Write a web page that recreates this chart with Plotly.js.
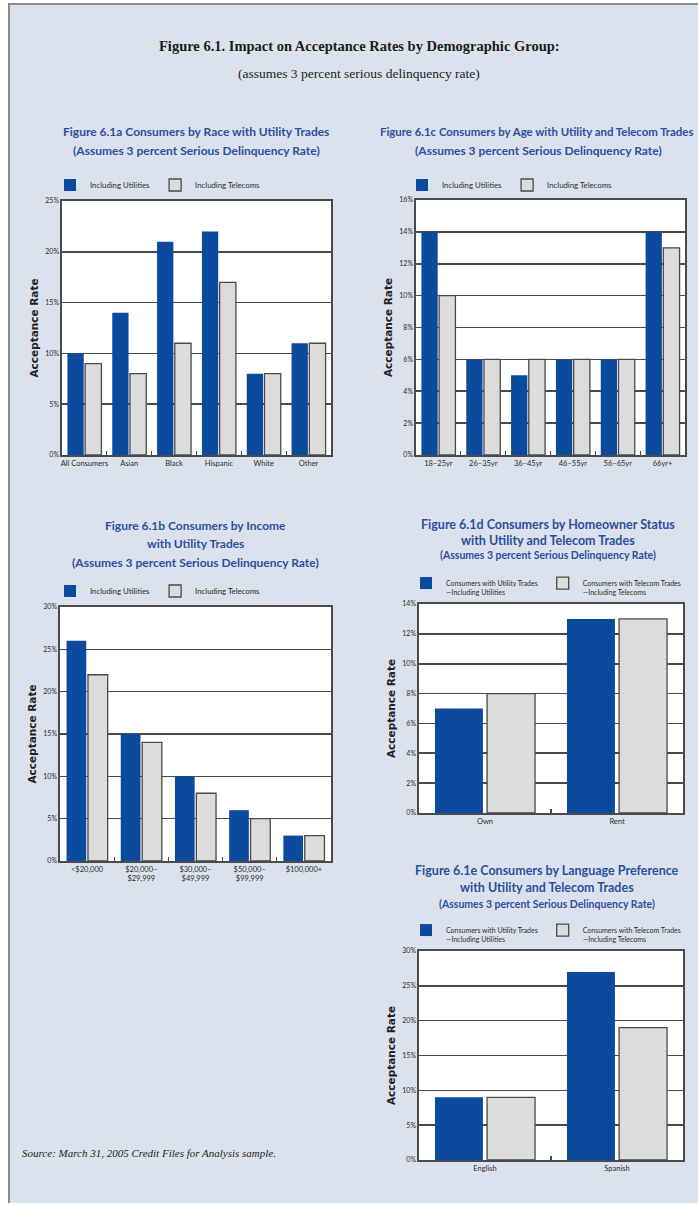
<!DOCTYPE html>
<html>
<head>
<meta charset="utf-8">
<script src="https://cdn.plot.ly/plotly-3.0.1.min.js"></script>
<style>
  html, body { margin: 0; padding: 0; background: #ffffff; }
  #panel {
    position: absolute; left: 8px; top: 3px; width: 700px; height: 1200px;
    background: #dce2ed; border-left: 2px solid #8c8c8c; border-top: 2px solid #8c8c8c;
    box-sizing: border-box;
  }
  #chart { position: absolute; left: 0; top: 0; width: 698px; height: 1205px; }
</style>
</head>
<body>
<div id="panel"></div>
<div id="chart"></div>
<script>
// Acceptance rates (percent) by demographic group
const raceCats = ['All Consumers', 'Asian', 'Black', 'Hispanic', 'White', 'Other'];
const raceUtil = [10, 14, 21, 22, 8, 11];
const raceTel  = [9, 8, 11, 17, 8, 11];

const incomeCats = ['<$20,000', '$20,000–<br>$29,999', '$30,000–<br>$49,999', '$50,000–<br>$99,999', '$100,000+'];
const incomeUtil = [26, 15, 10, 6, 3];
const incomeTel  = [22, 14, 8, 5, 3];

const ageCats = ['18–25yr', '26–35yr', '36–45yr', '46–55yr', '56–65yr', '66yr+'];
const ageUtil = [14, 6, 5, 6, 6, 14];
const ageTel  = [10, 6, 6, 6, 6, 13];

const homeCats = ['Own', 'Rent'];
const homeUtil = [7, 13];
const homeTel  = [8, 13];

const langCats = ['English', 'Spanish'];
const langUtil = [9, 27];
const langTel  = [9, 19];

const shortNames = ['Including Utilities', 'Including Telecoms'];
const longNames = ['Consumers with Utility Trades<br>—Including Utilities',
                   'Consumers with Telecom Trades<br>—Including Telecoms'];

// styling
const BLUE = '#0b4a9c';
const GRAY = '#dcdcdc';
const EDGE = '#4a4a4a';
const TXT = '#2a2a2a';
const HEAD = '#2a4f9f';
const SANS = 'Lato, sans-serif';
const BOLD = 'Lato, sans-serif';
const WIDE = 'DejaVu Sans, sans-serif';
const SERIF = 'Liberation Serif, serif';
const W = 698, H = 1205;

const px = v => v / W;          // horizontal pixel -> paper fraction
const py = v => 1 - v / H;      // vertical pixel -> paper fraction

function pair(cats, util, tel, names, ax, leg) {
  const xa = 'x' + ax, ya = 'y' + ax;
  return [
    { type: 'bar', x: cats, y: util, name: names[0], xaxis: xa, yaxis: ya, legend: leg,
      marker: { color: BLUE, line: { color: BLUE, width: 0 } }, hoverinfo: 'y' },
    { type: 'bar', x: cats, y: tel, name: names[1], xaxis: xa, yaxis: ya, legend: leg,
      marker: { color: GRAY, line: { color: EDGE, width: 1.3 } }, hoverinfo: 'y' }
  ];
}

const data = [
  ...pair(raceCats, raceUtil, raceTel, shortNames, '', 'legend'),
  ...pair(ageCats, ageUtil, ageTel, shortNames, '2', 'legend2'),
  ...pair(incomeCats, incomeUtil, incomeTel, shortNames, '3', 'legend3'),
  ...pair(homeCats, homeUtil, homeTel, longNames, '4', 'legend4'),
  ...pair(langCats, langUtil, langTel, longNames, '5', 'legend5')
];

function xAxis(x0, x1, anchor) {
  return {
    type: 'category', domain: [px(x0), px(x1)], anchor: anchor,
    showline: true, mirror: true, linecolor: EDGE, linewidth: 1.6,
    ticks: 'inside', tickson: 'boundaries', ticklen: 4, tickwidth: 1.2, tickcolor: EDGE,
    tickangle: 0, tickfont: { family: SANS, size: 7.5, color: TXT },
    showgrid: false, fixedrange: true
  };
}
function yAxis(y0, y1, top, step, anchor) {
  return {
    domain: [py(y1), py(y0)], anchor: anchor, range: [0, top], dtick: step,
    ticksuffix: '%', ticks: '', showgrid: true, gridcolor: EDGE, gridwidth: 1.6,
    zeroline: false, showline: true, mirror: true, linecolor: EDGE, linewidth: 1.6,
    tickfont: { family: SANS, size: 7, color: TXT }, fixedrange: true,
    title: { text: '<b>Acceptance Rate</b>', standoff: 4,
             font: { family: WIDE, size: 10.5, color: '#222222' } }
  };
}

function legendAt(x, y, size, valign) {
  return {
    x: px(x), y: py(y), xanchor: 'left', yanchor: 'middle', orientation: 'h',
    bgcolor: 'rgba(0,0,0,0)', borderwidth: 0,
    font: { family: SANS, size: size, color: TXT }, valign: valign || 'middle',
    itemclick: false, itemdoubleclick: false, traceorder: 'normal'
  };
}

// one annotation per heading line so each baseline can be placed
function line(text, x, y, size, color, family, anchor) {
  return { xref: 'paper', yref: 'paper', x: px(x), y: py(y), xanchor: anchor || 'center', yanchor: 'middle',
           showarrow: false, text: text, font: { family: family || BOLD, size: size, color: color || HEAD } };
}
const SUB = '<b>(Assumes 3 percent Serious Delinquency Rate)</b>';

const layout = {
  width: W, height: H,
  margin: { l: 0, r: 0, t: 0, b: 0 },
  paper_bgcolor: 'rgba(0,0,0,0)', plot_bgcolor: '#ffffff',
  barmode: 'group', bargap: 0.21, bargroupgap: 0.08,
  showlegend: true,

  xaxis:  xAxis(62, 331, 'y'),
  yaxis:  yAxis(201, 455, 25, 5, 'x'),
  xaxis2: xAxis(416, 685, 'y2'),
  yaxis2: yAxis(200, 455, 16, 2, 'x2'),
  xaxis3: xAxis(60, 331, 'y3'),
  yaxis3: yAxis(607, 861, 30, 5, 'x3'),
  xaxis4: xAxis(419, 683, 'y4'),
  yaxis4: yAxis(604, 813, 14, 2, 'x4'),
  xaxis5: xAxis(419, 683, 'y5'),
  yaxis5: yAxis(951, 1160, 30, 5, 'x5'),

  legend:  legendAt(50, 185, 7.8),
  legend2: legendAt(402, 185, 7.8),
  legend3: legendAt(50, 591, 7.8),
  legend4: legendAt(406, 588, 7, 'top'),
  legend5: legendAt(406, 935, 7, 'top'),

  annotations: [
    line('<b>Figure 6.1. Impact on Acceptance Rates by Demographic Group:</b>', 359, 46, 14.5, '#1c1c1c', SERIF),
    line('(assumes 3 percent serious delinquency rate)', 359, 73, 13.5, '#1c1c1c', SERIF),

    line('<b>Figure 6.1a Consumers by Race with Utility Trades</b>', 196, 131, 12),
    line(SUB, 196, 150, 12),

    line('<b>Figure 6.1c Consumers by Age with Utility and Telecom Trades</b>', 536, 131, 11.4),
    line(SUB, 538, 150, 12),

    line('<b>Figure 6.1b Consumers by Income</b>', 195, 525, 12),
    line('<b>with Utility Trades</b>', 195, 543, 12),
    line(SUB, 195, 562, 12),

    line('<b>Figure 6.1d Consumers by Homeowner Status</b>', 548, 524, 12.5),
    line('<b>with Utility and Telecom Trades</b>', 548, 540, 12.5),
    line(SUB, 548, 555, 10.5),

    line('<b>Figure 6.1e Consumers by Language Preference</b>', 547, 870, 12.5),
    line('<b>with Utility and Telecom Trades</b>', 547, 887, 12.5),
    line(SUB, 547, 904, 10.5),

    line('<i>Source: March 31, 2005 Credit Files for Analysis sample.</i>', 20, 1153, 11, '#1c1c1c', SERIF, 'left')
  ]
};

Plotly.newPlot('chart', data, layout, { displayModeBar: false, staticPlot: true });
</script>
</body>
</html>
